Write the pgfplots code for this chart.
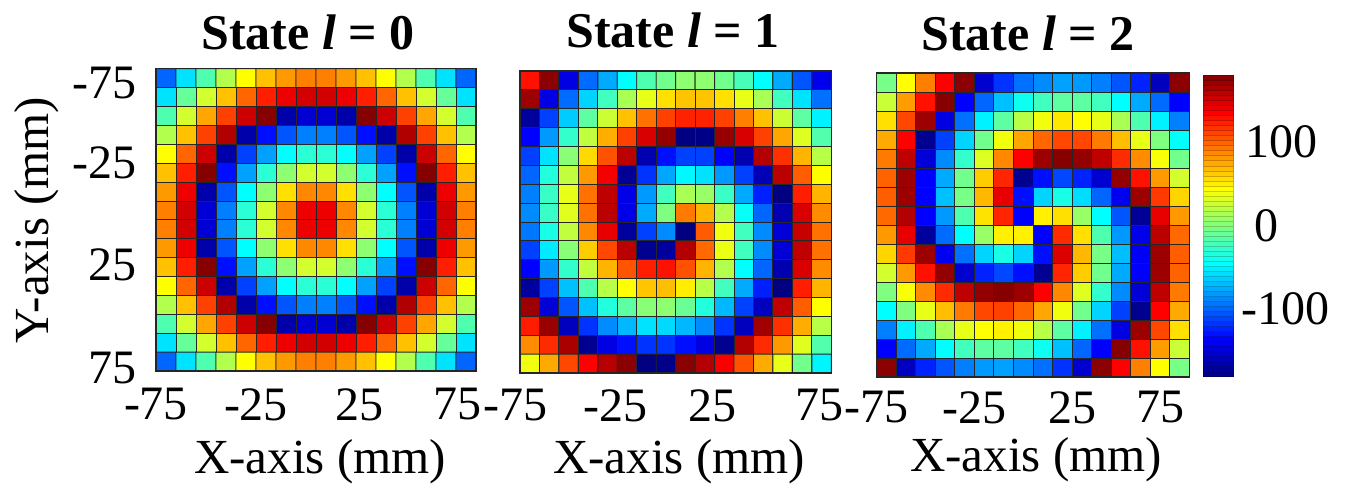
\documentclass[border=0pt]{standalone}
\usepackage{pgfplots}
\pgfplotsset{compat=1.18}
\usepackage{fontspec}
\setmainfont{Liberation Serif}
\newcommand{\lab}{\fontsize{48}{48}\selectfont}
\pgfplotsset{
  panel/.style={
    scale only axis, y dir=reverse, xmin=-80, xmax=80, ymin=-80, ymax=80,
    anchor=north west, colormap/jet, point meta min=-180, point meta max=180,
    major tick length=0pt, tick style={draw=none},
    axis line style={draw=black!85, line width=1.1pt},
    tick label style={font=\lab},
    xticklabels={-75,-25,25,75},
    yticklabels={-75,-25,25,75},
    axis on top,
  },
  cells/.style={matrix plot, mesh/cols=16, point meta=explicit, draw=black!85, line width=0.9pt},
}
\pgfkeys{/pgfplots/table/.cd,
  cellsfmt/.style={row sep=crcr, header=false,
    x expr={(\coordindex-16*floor(\coordindex/16+0.01))*10-75},
    y expr={floor(\coordindex/16+0.01)*10-75}, meta index=0}}
\begin{document}
\begin{tikzpicture}[x=1pt,y=1pt]
\path[use as bounding box] (0,0) rectangle (1358,485);
% colour bar: its own axis, one flat mark for each level of the scale.
% This axis comes out with y running downwards here, so positions are the negated levels
% and the tick labels are listed to match; the meta value in [ ] is the level itself.
\begin{axis}[scale only axis, at={(1203.3pt,109pt)}, anchor=south west, width=30pt, height=300.7pt,
  y dir=normal,
  xmin=-0.5, xmax=0.5, ymin=-180, ymax=180, xtick=\empty,
  colormap/jet, point meta min=-180, point meta max=180, axis on top,
  ytick={-100,0,100}, yticklabels={\hspace*{4pt}100,\hspace*{13pt}0,-100},
  ytick pos=right, yticklabel pos=right, ytick align=inside, major tick length=3pt,
  tick style={draw=black!70, line width=0.6pt},
  axis line style={draw=black!75, line width=0.8pt},
  yticklabel style={font=\lab, anchor=west, xshift=5pt}]
\addplot[scatter, only marks, mark=square*, mark size=15pt, scatter src=explicit,
  mark options={yscale=0.18}] coordinates {
(0,177)[-177] (0,171)[-171] (0,165)[-165] (0,159)[-159] (0,153)[-153] (0,147)[-147]
(0,141)[-141] (0,135)[-135] (0,129)[-129] (0,123)[-123] (0,117)[-117] (0,111)[-111]
(0,105)[-105] (0,99)[-99] (0,93)[-93] (0,87)[-87] (0,81)[-81] (0,75)[-75]
(0,69)[-69] (0,63)[-63] (0,57)[-57] (0,51)[-51] (0,45)[-45] (0,39)[-39]
(0,33)[-33] (0,27)[-27] (0,21)[-21] (0,15)[-15] (0,9)[-9] (0,3)[-3]
(0,-3)[3] (0,-9)[9] (0,-15)[15] (0,-21)[21] (0,-27)[27] (0,-33)[33]
(0,-39)[39] (0,-45)[45] (0,-51)[51] (0,-57)[57] (0,-63)[63] (0,-69)[69]
(0,-75)[75] (0,-81)[81] (0,-87)[87] (0,-93)[93] (0,-99)[99] (0,-105)[105]
(0,-111)[111] (0,-117)[117] (0,-123)[123] (0,-129)[129] (0,-135)[135] (0,-141)[141]
(0,-147)[147] (0,-153)[153] (0,-159)[159] (0,-165)[165] (0,-171)[171] (0,-177)[177]
};
\end{axis}
\begin{axis}[panel, at={(156pt,416.3pt)}, width=320pt, height=302.3pt,
  xtick={-80,-30,22,71}, ytick={-72.6,-30,24,78.4},
  xticklabel style={yshift=-14pt}, yticklabel style={xshift=-16pt}]
\addplot[cells] table[cellsfmt] {
-99\\-55\\-17\\18\\45\\67\\81\\90\\90\\81\\67\\45\\18\\-17\\-55\\-99\\
-55\\-9\\29\\67\\99\\124\\141\\151\\151\\141\\124\\99\\67\\29\\-9\\-55\\
-17\\29\\76\\112\\153\\178\\-165\\-150\\-150\\-165\\178\\153\\112\\76\\29\\-17\\
18\\67\\112\\163\\-165\\-130\\-105\\-90\\-90\\-105\\-130\\-165\\163\\112\\67\\18\\
45\\99\\153\\-165\\-112\\-78\\-45\\-30\\-30\\-45\\-78\\-112\\-165\\153\\99\\45\\
67\\124\\178\\-130\\-78\\-30\\5\\29\\29\\5\\-30\\-78\\-130\\178\\124\\67\\
81\\141\\-165\\-105\\-45\\5\\56\\87\\87\\56\\5\\-45\\-105\\-165\\141\\81\\
90\\151\\-150\\-90\\-30\\29\\87\\141\\141\\87\\29\\-30\\-90\\-150\\151\\90\\
90\\151\\-150\\-90\\-30\\29\\87\\141\\141\\87\\29\\-30\\-90\\-150\\151\\90\\
81\\141\\-165\\-105\\-45\\5\\56\\87\\87\\56\\5\\-45\\-105\\-165\\141\\81\\
67\\124\\178\\-130\\-78\\-30\\5\\29\\29\\5\\-30\\-78\\-130\\178\\124\\67\\
45\\99\\153\\-165\\-112\\-78\\-45\\-30\\-30\\-45\\-78\\-112\\-165\\153\\99\\45\\
18\\67\\112\\163\\-165\\-130\\-105\\-90\\-90\\-105\\-130\\-165\\163\\112\\67\\18\\
-17\\29\\76\\112\\153\\178\\-165\\-150\\-150\\-165\\178\\153\\112\\76\\29\\-17\\
-55\\-9\\29\\67\\99\\124\\141\\151\\151\\141\\124\\99\\67\\29\\-9\\-55\\
-99\\-55\\-17\\18\\45\\67\\81\\90\\90\\81\\67\\45\\18\\-17\\-55\\-99\\
};
\end{axis}
\begin{axis}[panel, at={(520pt,414pt)}, width=311.3pt, height=302pt,
  xtick={-80,-28.5,21.2,76.7}, ytick=\empty,
  xticklabel style={yshift=-13pt, xshift=-4.9pt}]
\addplot[cells] table[cellsfmt] {
129\\176\\-145\\-97\\-75\\-45\\-17\\-5\\5\\5\\-5\\-20\\-45\\-75\\-105\\-142\\
170\\-145\\-97\\-60\\-22\\15\\37\\56\\66\\66\\56\\37\\15\\-22\\-55\\-95\\
-170\\-112\\-63\\-12\\27\\67\\95\\112\\123\\123\\112\\90\\67\\27\\-12\\-50\\
-135\\-81\\-27\\23\\74\\112\\149\\173\\-180\\-178\\172\\149\\112\\76\\33\\-16\\
-112\\-55\\3\\58\\106\\159\\-163\\-130\\-112\\-112\\-135\\-163\\162\\118\\71\\20\\
-99\\-33\\23\\81\\139\\-172\\-117\\-76\\-47\\-55\\-81\\-112\\-161\\159\\102\\45\\
-90\\-25\\37\\95\\158\\-143\\-81\\-22\\15\\9\\-25\\-75\\-124\\-180\\124\\71\\
-86\\-25\\34\\95\\159\\-143\\-75\\0\\92\\71\\18\\-42\\-99\\-163\\149\\86\\
-93\\-36\\23\\87\\143\\-170\\-112\\-86\\-180\\103\\40\\-22\\-86\\-149\\155\\95\\
-112\\-52\\3\\63\\110\\159\\-174\\-170\\162\\98\\38\\-22\\-86\\-149\\158\\95\\
-135\\-81\\-27\\23\\71\\105\\124\\129\\106\\71\\18\\-45\\-99\\-163\\149\\86\\
-170\\-112\\-67\\-17\\20\\45\\65\\68\\51\\20\\-22\\-75\\-124\\-180\\124\\71\\
170\\-149\\-105\\-67\\-33\\-12\\3\\5\\-8\\-33\\-70\\-112\\-158\\158\\102\\45\\
125\\171\\-158\\-117\\-86\\-70\\-55\\-58\\-70\\-86\\-117\\-158\\168\\118\\74\\20\\
86\\120\\165\\-174\\-145\\-130\\-117\\-117\\-130\\-145\\-174\\162\\120\\81\\34\\-16\\
40\\75\\110\\135\\160\\176\\-180\\-177\\176\\162\\137\\106\\75\\37\\-5\\-48\\
};
\end{axis}
\begin{axis}[panel, at={(876.7pt,412pt)}, width=312.6pt, height=304pt,
  xtick={-80,-29.7,20,65}, ytick=\empty,
  xticklabel style={yshift=-11pt}]
\addplot[cells] table[cellsfmt] {
-3\\45\\90\\135\\176\\-152\\-117\\-95\\-86\\-78\\-81\\-90\\-105\\-123\\-158\\176\\
26\\80\\129\\178\\-135\\-99\\-67\\-40\\-22\\-12\\-12\\-22\\-45\\-75\\-97\\-135\\
56\\110\\170\\-145\\-95\\-50\\-12\\20\\40\\53\\45\\37\\15\\-17\\-50\\-90\\
75\\135\\-174\\-112\\-60\\-5\\40\\76\\99\\110\\110\\92\\68\\37\\0\\-45\\
92\\158\\-149\\-86\\-27\\33\\87\\135\\170\\178\\173\\158\\120\\86\\43\\-5\\
100\\170\\-135\\-75\\-5\\63\\122\\-174\\-130\\-110\\-123\\-152\\173\\129\\81\\29\\
102\\170\\-135\\-67\\-3\\70\\143\\-130\\-60\\-36\\-57\\-99\\-140\\170\\115\\60\\
98\\162\\-135\\-81\\-17\\55\\122\\-135\\50\\56\\9\\-45\\-105\\-172\\143\\81\\
81\\143\\-170\\-97\\-45\\9\\50\\50\\-135\\120\\56\\-17\\-81\\-142\\159\\98\\
60\\115\\170\\-140\\-95\\-60\\-36\\-60\\-130\\147\\70\\-3\\-68\\-137\\170\\102\\
29\\81\\129\\173\\-152\\-123\\-110\\-130\\-174\\122\\63\\-5\\-75\\-135\\170\\100\\
0\\43\\86\\120\\158\\173\\178\\170\\135\\87\\33\\-27\\-86\\-149\\158\\92\\
-45\\0\\37\\68\\92\\110\\112\\99\\76\\40\\-5\\-60\\-112\\-174\\135\\75\\
-90\\-50\\-17\\15\\37\\45\\50\\40\\20\\-12\\-50\\-95\\-145\\170\\110\\56\\
-135\\-97\\-75\\-45\\-22\\-12\\-12\\-22\\-40\\-67\\-99\\-135\\178\\129\\80\\26\\
176\\-158\\-123\\-105\\-90\\-81\\-78\\-86\\-95\\-117\\-152\\176\\135\\90\\45\\-3\\
};
\end{axis}
\node[font=\fontsize{50}{50}\selectfont\bfseries] at (308,453) {State \textit{l} = 0};
\node[font=\fontsize{50}{50}\selectfont\bfseries] at (673,455) {State \textit{l} = 1};
\node[font=\fontsize{50}{50}\selectfont\bfseries] at (1028,452) {State \textit{l} = 2};
\node[font=\fontsize{49}{49}\selectfont] at (320,23) {X-axis (mm)};
\node[font=\fontsize{49}{49}\selectfont] at (679,23) {X-axis (mm)};
\node[font=\fontsize{49}{49}\selectfont] at (1036,25) {X-axis (mm)};
\node[font=\fontsize{49}{49}\selectfont, rotate=90] at (37,265) {Y-axis (mm)};
\end{tikzpicture}
\end{document}
